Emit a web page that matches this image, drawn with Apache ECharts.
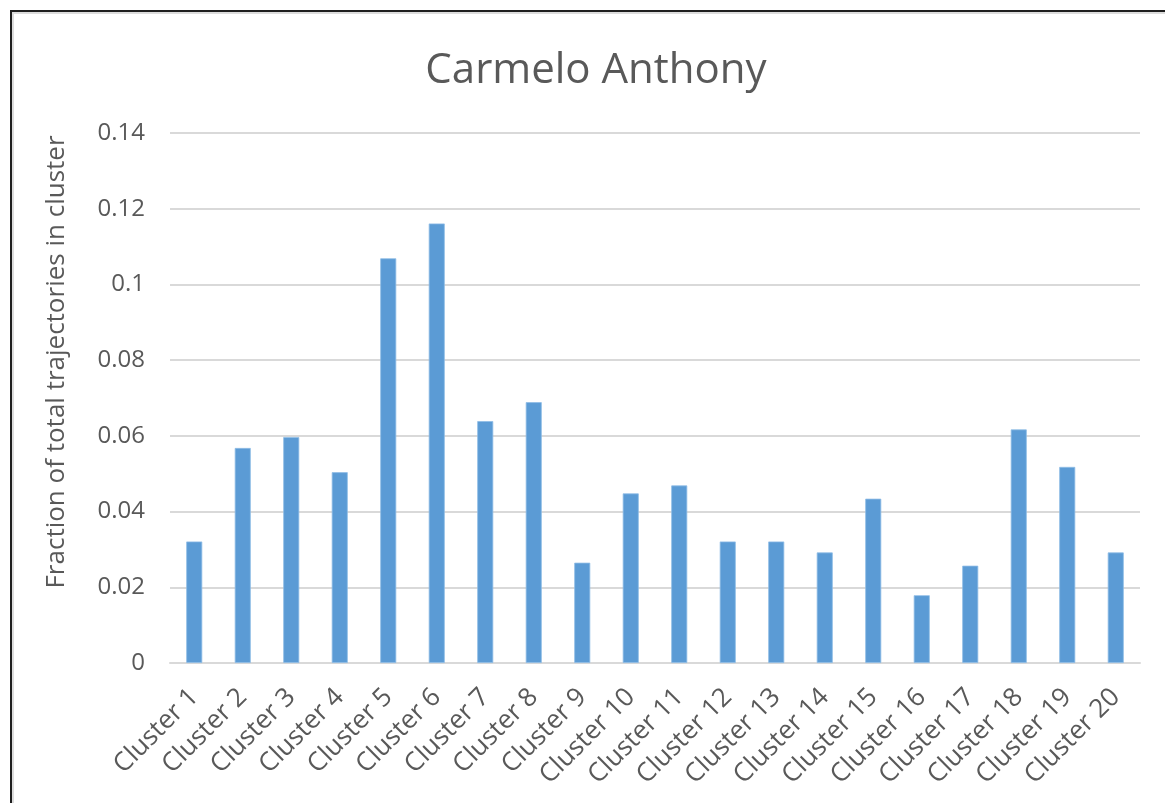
<!DOCTYPE html>
<html>
<head>
<meta charset="utf-8">
<script src="https://cdn.jsdelivr.net/npm/echarts@6/dist/echarts.min.js"></script>
<style>
  html, body { margin: 0; padding: 0; background: #fff; }
  #chart { width: 1165px; height: 803px; }
</style>
</head>
<body>
<div id="chart"></div>
<script>
// Share of all trajectories that fall into each cluster
const categories = [
  'Cluster 1', 'Cluster 2', 'Cluster 3', 'Cluster 4', 'Cluster 5',
  'Cluster 6', 'Cluster 7', 'Cluster 8', 'Cluster 9', 'Cluster 10',
  'Cluster 11', 'Cluster 12', 'Cluster 13', 'Cluster 14', 'Cluster 15',
  'Cluster 16', 'Cluster 17', 'Cluster 18', 'Cluster 19', 'Cluster 20'
];
const fractions = [
  0.0321, 0.0568, 0.0597, 0.0504, 0.1069,
  0.1161, 0.0639, 0.0689, 0.0265, 0.0448,
  0.0469, 0.0321, 0.0321, 0.0292, 0.0434,
  0.0179, 0.0257, 0.0617, 0.0518, 0.0292
];
const yTicks = { min: 0, max: 0.14, interval: 0.02 };

const textColor = '#595959';
const font = '"Open Sans", "Noto Sans", sans-serif';

const chart = echarts.init(document.getElementById('chart'), null, { renderer: 'canvas' });
chart.setOption({
  animation: false,
  backgroundColor: '#ffffff',
  title: {
    text: 'Carmelo Anthony',
    left: 591,
    top: 45,
    textAlign: 'center',
    textStyle: { color: textColor, fontFamily: font, fontSize: 42, fontWeight: 'normal' }
  },
  graphic: [
    {
      type: 'rect',
      shape: { x: 11, y: 11, width: 1200, height: 900 },
      style: { fill: 'none', stroke: '#1e1e1e', lineWidth: 2 },
      silent: true
    },
    {
      type: 'rect',
      shape: { x: 13, y: 13, width: 1200, height: 900 },
      style: { fill: 'none', stroke: '#dcdcdc', lineWidth: 2 },
      silent: true
    }
  ],
  grid: { left: 170, right: 25, top: 133, bottom: 140, containLabel: false },
  xAxis: {
    type: 'category',
    data: categories,
    axisLine: { show: true, lineStyle: { color: '#d9d9d9', width: 2 } },
    axisTick: { show: false },
    axisLabel: {
      rotate: 45,
      interval: 0,
      margin: 30,
      color: textColor,
      fontFamily: font,
      fontSize: 26
    }
  },
  yAxis: {
    type: 'value',
    min: yTicks.min,
    max: yTicks.max,
    interval: yTicks.interval,
    name: 'Fraction of total trajectories in cluster',
    nameLocation: 'middle',
    nameGap: 100,
    nameTextStyle: { color: textColor, fontFamily: font, fontSize: 26, padding: [0, 0, 0, 72] },
    axisLine: { show: false },
    axisTick: { show: false },
    axisLabel: {
      margin: 25,
      color: textColor,
      fontFamily: font,
      fontSize: 24,
      formatter: v => (Math.round(v * 100) / 100).toString()
    },
    splitLine: { lineStyle: { color: '#d9d9d9', width: 2 } }
  },
  series: [{
    type: 'bar',
    data: fractions,
    barWidth: '33%',
    itemStyle: { color: '#5b9bd5', borderColor: '#8fbde6', borderWidth: 0.8 }
  }]
});
</script>
</body>
</html>
